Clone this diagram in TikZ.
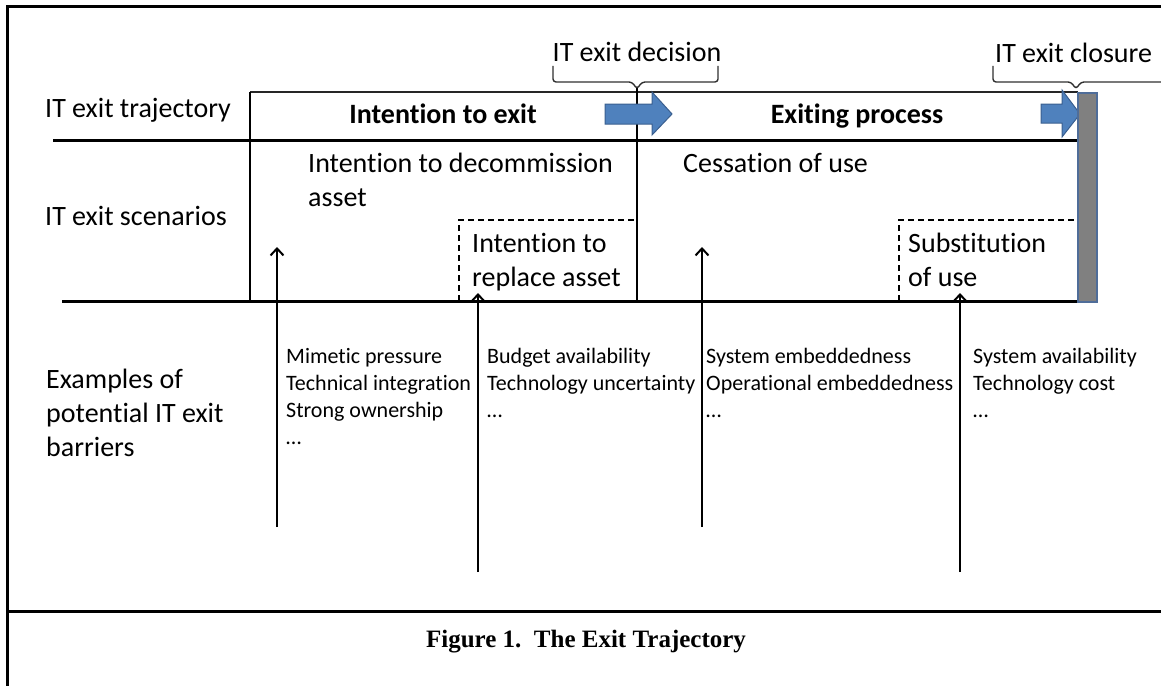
\documentclass[tikz,border=0pt]{standalone}
\usepackage{fontspec}
\setmainfont{Carlito}[Ligatures=NoCommon]
\newfontfamily\capfont{Liberation Serif}
\usetikzlibrary{arrows.meta}
\definecolor{arrowblue}{HTML}{4F81BD}
\definecolor{arrowedge}{HTML}{3A5F8F}
\definecolor{bargrey}{HTML}{808080}
\definecolor{baredge}{HTML}{4F6D99}
\definecolor{bracegrey}{HTML}{303030}
\tikzset{
  frameline/.style={line width=3pt, black},
  rowline/.style={line width=3pt, black},
  thinline/.style={line width=1.8pt, black},
  dashline/.style={line width=1.6pt, black, dash pattern=on 6pt off 4pt},
  braceline/.style={line width=1.4pt, bracegrey, rounded corners=3pt},
  barrier/.style={line width=2pt, black, -{Straight Barb[length=7pt,width=13pt,line width=2pt]}},
  bluearrow/.style={fill=arrowblue, draw=arrowedge, line width=1pt},
  lab/.style={inner sep=0pt, font=\fontsize{28}{34}\selectfont, align=left},
  blab/.style={inner sep=0pt, font=\fontsize{28}{34}\selectfont\bfseries},
  list/.style={inner sep=0pt, font=\fontsize{22}{27}\selectfont, align=left, anchor=base west},
}
\begin{document}
\begin{tikzpicture}[x=1pt,y=-1pt]
\useasboundingbox (0,0) rectangle (1161,685);
% frame
\draw[frameline] (1161,7) -- (7,7) -- (7,686);
\draw[frameline] (7,611) -- (1161,611);
% row structure
\draw[line width=1.4pt, black!85] (250,92) -- (1078,92);
\draw[thinline] (250,92) -- (250,302);
\draw[rowline] (53,140) -- (1078,140);
\draw[rowline] (62,301) -- (1078,301);
\draw[thinline] (637,88) -- (637,301);
% dashed boxes
\draw[dashline] (459,301) -- (459,220) -- (637,220);
\draw[dashline] (899,301) -- (899,220) -- (1078,220);
% braces
\draw[braceline] (553,66) -- (553,82) -- (632,82) -- (637,89) -- (642,82) -- (718,82) -- (718,66);
\draw[braceline] (993,66) -- (993,82) -- (1071,82) -- (1076,89) -- (1081,82) -- (1162,82);
% blue arrows
\draw[bluearrow] (605,104) -- (652,104) -- (652,92) -- (672,114) -- (652,135) -- (652,124) -- (605,124) -- cycle;
\draw[bluearrow] (1041,104) -- (1062,104) -- (1062,90) -- (1080,114) -- (1062,137) -- (1062,123) -- (1041,123) -- cycle;
% closure bar
\draw[fill=bargrey, draw=baredge, line width=2.5pt] (1078,93) rectangle (1097,302);
% texts (base anchor of multi-line nodes = baseline of the last line)
\node[lab, anchor=base west] (traj) at (45,117) {IT exit trajectory};
\node[lab, anchor=base west] (scen) at (45,225) {IT exit scenarios};
\node[lab, anchor=base west] (exam) at (46,456) {Examples of\\potential IT exit\\barriers};
\node[blab, anchor=base] (intex) at (443,123) {Intention to exit};
\node[blab, anchor=base] (exproc) at (857,123) {Exiting process};
\node[lab, anchor=base] (decis) at (637,62) {IT exit decision};
\node[lab, anchor=base west] (closure) at (995,63) {IT exit closure};
\node[lab, anchor=base west] (decom) at (308,206) {Intention to decommission\\asset};
\node[lab, anchor=base west] (repl) at (472,286) {Intention to\\replace asset};
\node[lab, anchor=base west] (cess) at (683,172) {Cessation of use};
\node[lab, anchor=base west] (subst) at (908,286) {Substitution\\of use};
\node[list] (l1) at (286,444) {Mimetic pressure\\Technical integration\\Strong ownership\\…};
\node[list] (l2) at (487,417) {Budget availability\\Technology uncertainty\\…};
\node[list] (l3) at (706,417) {System embeddedness\\Operational embeddedness\\…};
\node[list] (l4) at (973,417) {System availability\\Technology cost\\…};
\node[inner sep=0pt, anchor=base, font=\capfont\bfseries\fontsize{25}{30}\selectfont] (cap) at (586,647) {Figure 1.\ \ The Exit Trajectory};
% barrier arrows
\coordinate (a1s) at (277,527); \coordinate (a1e) at (277,247);
\coordinate (a2s) at (478,572); \coordinate (a2e) at (478,293);
\coordinate (a3s) at (702,527); \coordinate (a3e) at (702,247);
\coordinate (a4s) at (960,572); \coordinate (a4e) at (960,293);
\draw[barrier] (a1s) -- (a1e);
\draw[barrier] (a2s) -- (a2e);
\draw[barrier] (a3s) -- (a3e);
\draw[barrier] (a4s) -- (a4e);
\end{tikzpicture}
\end{document}
